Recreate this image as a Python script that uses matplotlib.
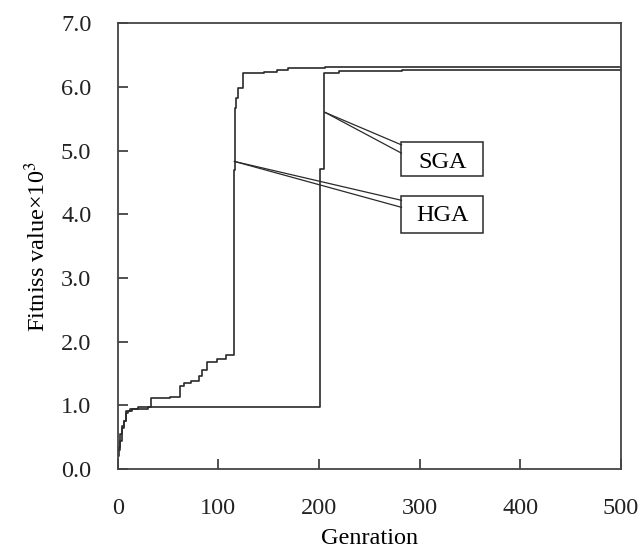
import matplotlib
matplotlib.use('Agg')
import matplotlib.pyplot as plt
from matplotlib.patches import Rectangle

plt.rcParams['font.family'] = ['Liberation Serif', 'DejaVu Serif']
plt.rcParams['mathtext.fontset'] = 'stix'

# HGA curve (step, generation -> fitness x10^3)
hga_gen = [0, 1, 2, 4, 6, 8, 10, 14, 20, 33, 52, 62, 66, 73, 81, 84, 89, 99, 108,
           116, 117, 118, 120, 124, 145, 158, 169, 206, 500]
hga_val = [0.20, 0.35, 0.55, 0.68, 0.75, 0.88, 0.92, 0.95, 0.98, 1.11, 1.14, 1.30,
           1.35, 1.38, 1.46, 1.55, 1.68, 1.73, 1.79, 4.70, 5.67, 5.82, 5.98, 6.22,
           6.23, 6.26, 6.29, 6.31, 6.31]

# SGA curve
sga_gen = [0, 2, 4, 6, 8, 12, 30, 201, 205, 220, 283, 500]
sga_val = [0.30, 0.45, 0.65, 0.75, 0.92, 0.95, 0.98, 4.71, 6.22, 6.25, 6.27, 6.27]

xticks = [0, 100, 200, 300, 400, 500]
yticks = [0.0, 1.0, 2.0, 3.0, 4.0, 5.0, 6.0, 7.0]

lc = '#2a2a2a'
fs = 17.5

fig = plt.figure(figsize=(6.4, 5.52), dpi=100)
ax = fig.add_axes([0.184, 0.150, 0.786, 0.808])

ax.step(sga_gen, sga_val, where='post', color=lc, lw=1.2)
ax.step(hga_gen, hga_val, where='post', color=lc, lw=1.2)

ax.set_xlim(0, 500)
ax.set_ylim(0, 7.0)
ax.set_xticks(xticks)
ax.set_yticks(yticks)
ax.set_yticklabels(['%.1f' % v for v in yticks])
ax.tick_params(direction='in', length=7, width=1.1, colors='#222222',
               labelsize=fs)
ax.tick_params(axis='x', pad=21)
ax.tick_params(axis='y', pad=19)
for s in ax.spines.values():
    s.set_linewidth(1.3)
    s.set_color('#444444')

ax.set_xlabel('Genration', fontsize=fs, labelpad=6)
ax.set_ylabel('Fitniss value\u00d710$^3$', fontsize=fs, labelpad=8)

# labelled boxes with double leader lines
labels = [
    ('SGA', (206, 5.60), (4.60, 5.13), (5.09, 4.96), 4.82),
    ('HGA', (116, 4.83), (3.70, 4.29), (4.22, 4.11), 3.98),
]
bx0, bx1 = 282, 363
for name, (px, py), (yb, yt), (l1, l2), ty in labels:
    ax.add_patch(Rectangle((bx0, yb), bx1 - bx0, yt - yb, fill=False,
                           edgecolor=lc, lw=1.1))
    ax.plot([px, bx0], [py, l1], color=lc, lw=0.9)
    ax.plot([px, bx0], [py, l2], color=lc, lw=0.9)
    ax.text((bx0 + bx1) / 2, ty, name, ha='center', va='center', fontsize=fs)

plt.savefig('out.png', dpi=100)
